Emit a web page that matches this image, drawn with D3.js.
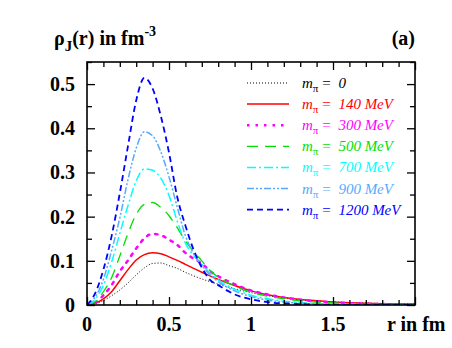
<!DOCTYPE html>
<html>
<head>
<meta charset="utf-8">
<script src="https://cdn.jsdelivr.net/npm/d3@7"></script>
<style>
  body { margin: 0; background: white; }
  svg, svg text { font-family: "Liberation Serif", "DejaVu Serif", serif; }
</style>
</head>
<body>
<div id="root"></div>
<script>
// r grid in fm (shared by all curves)
const rGrid = [0, 0.05, 0.1, 0.15, 0.2, 0.25, 0.3, 0.35, 0.4, 0.45, 0.5, 0.55, 0.6, 0.65, 0.7, 0.75, 0.8, 0.9, 1.0, 1.1, 1.2, 1.3, 1.4, 1.5, 1.6, 1.7, 1.8, 1.9, 2.0]

// rho_J(r) values, one array per pion mass
const rho0    = [0, 0.003, 0.010, 0.021, 0.034, 0.050, 0.068, 0.084, 0.094, 0.095, 0.089, 0.083, 0.074, 0.066, 0.059, 0.053, 0.047, 0.037, 0.028, 0.021, 0.016, 0.012, 0.009, 0.007, 0.0055, 0.0045, 0.0036, 0.003, 0.0025]
const rho140  = [0, 0.004, 0.014, 0.030, 0.055, 0.080, 0.102, 0.114, 0.118, 0.116, 0.109, 0.101, 0.092, 0.083, 0.074, 0.066, 0.058, 0.044, 0.032, 0.023, 0.017, 0.0125, 0.0095, 0.007, 0.0053, 0.004, 0.003, 0.0024, 0.002]
const rho300  = [0, 0.005, 0.022, 0.045, 0.076, 0.101, 0.128, 0.151, 0.161, 0.158, 0.148, 0.136, 0.118, 0.105, 0.094, 0.077, 0.065, 0.047, 0.033, 0.024, 0.017, 0.012, 0.0085, 0.006, 0.0042, 0.003, 0.0021, 0.0015, 0.001]
const rho500  = [0, 0.008, 0.030, 0.062, 0.111, 0.162, 0.205, 0.228, 0.232, 0.221, 0.202, 0.175, 0.145, 0.121, 0.100, 0.078, 0.063, 0.043, 0.029, 0.020, 0.014, 0.0095, 0.0065, 0.0045, 0.003, 0.002, 0.0014, 0.001, 0.0007]
const rho700  = [0, 0.013, 0.045, 0.097, 0.162, 0.225, 0.281, 0.308, 0.305, 0.287, 0.248, 0.190, 0.140, 0.112, 0.092, 0.072, 0.057, 0.036, 0.022, 0.014, 0.0085, 0.0055, 0.0035, 0.0022, 0.0014, 0.0009, 0.0006, 0.0004, 0.0003]
const rho900  = [0, 0.018, 0.058, 0.123, 0.197, 0.284, 0.355, 0.392, 0.383, 0.347, 0.290, 0.222, 0.157, 0.116, 0.090, 0.068, 0.053, 0.032, 0.019, 0.011, 0.0065, 0.004, 0.0025, 0.0015, 0.001, 0.0006, 0.0004, 0.0002, 0.0001]
const rho1200 = [0, 0.027, 0.080, 0.156, 0.253, 0.360, 0.463, 0.514, 0.490, 0.428, 0.345, 0.245, 0.180, 0.125, 0.085, 0.057, 0.045, 0.024, 0.013, 0.0065, 0.0035, 0.002, 0.001, 0.0006, 0.0003, 0.0002, 0.0001, 0.0001, 0]

const massLabels = ["0", "140 MeV", "300 MeV", "500 MeV", "700 MeV", "900 MeV", "1200 MeV"]
const xTicks = [0, 0.5, 1, 1.5]
const yTicks = [0, 0.1, 0.2, 0.3, 0.4, 0.5]

const series = [
    {vals: rho0,    color: "#000000", width: 1,   dash: "1,2"},
    {vals: rho140,  color: "#ff0000", width: 1.5, dash: null},
    {vals: rho300,  color: "#ff00ff", width: 2.5, dash: "2.5,6"},
    {vals: rho500,  color: "#00e000", width: 1.3, dash: "11,7"},
    {vals: rho700,  color: "#00ffff", width: 1.5, dash: "9,3,2,3"},
    {vals: rho900,  color: "#55aaff", width: 1.5, dash: "7,2,2,2,2,2"},
    {vals: rho1200, color: "#0000ff", width: 1.8, dash: "6,4"}
]

const w = 452, h = 348
const mLeft = 87, mRight = 415, mTop = 62, mBottom = 305
const serif = "'Liberation Serif', 'DejaVu Serif', serif"

//scales
const x = d3.scaleLinear().domain([0, 2]).range([mLeft, mRight])
const y = d3.scaleLinear().domain([0, 0.55]).range([mBottom, mTop])

const svg = d3.select("#root").append("svg")
    .attr("width", w)
    .attr("height", h)
    .attr("font-family", serif)

svg.append("rect").attr("width", w).attr("height", h).attr("fill", "white")

// curves
const line = d3.line()
    .x((d, i) => x(rGrid[i]))
    .y(d => y(d))
    .curve(d3.curveMonotoneX)

svg.append("defs").append("clipPath").attr("id", "clip")
    .append("rect").attr("x", mLeft).attr("y", mTop).attr("width", mRight - mLeft).attr("height", mBottom - mTop)

svg.append("g").attr("clip-path", "url(#clip)")
    .selectAll("path.curve")
    .data(series)
    .enter()
    .append("path")
    .attr("class", "curve")
    .attr("fill", "none")
    .attr("stroke", d => d.color)
    .attr("stroke-width", d => d.width)
    .attr("stroke-dasharray", d => d.dash)
    .attr("stroke-linecap", (d, i) => i == 2 ? "round" : "butt")
    .attr("d", d => line(d.vals))

// axes, ticks pointing inwards on all four sides
const xMinor = d3.range(0, 2.001, 0.1)
const yMinor = d3.range(0, 0.5501, 0.05)

function isMajor(v, step) {
    return Math.abs(v / step - Math.round(v / step)) < 1e-6
}

svg.append("g").attr("transform", `translate(0,${mBottom})`)
    .call(d3.axisBottom(x).tickValues(xMinor).tickSizeOuter(0).tickFormat(""))
    .call(g => g.selectAll(".tick line").attr("y2", d => isMajor(d, 0.5) ? -8 : -5).attr("stroke-width", 1.3))
    .call(g => g.select(".domain").remove())

svg.append("g").attr("transform", `translate(0,${mTop})`)
    .call(d3.axisTop(x).tickValues(xMinor).tickSizeOuter(0).tickFormat(""))
    .call(g => g.selectAll(".tick line").attr("y2", d => isMajor(d, 0.5) ? 8 : 5).attr("stroke-width", 1.3))
    .call(g => g.select(".domain").remove())

svg.append("g").attr("transform", `translate(${mLeft},0)`)
    .call(d3.axisLeft(y).tickValues(yMinor).tickSizeOuter(0).tickFormat(""))
    .call(g => g.selectAll(".tick line").attr("x2", d => isMajor(d, 0.1) ? 8 : 5).attr("stroke-width", 1.3))
    .call(g => g.select(".domain").remove())

svg.append("g").attr("transform", `translate(${mRight},0)`)
    .call(d3.axisRight(y).tickValues(yMinor).tickSizeOuter(0).tickFormat(""))
    .call(g => g.selectAll(".tick line").attr("x2", d => isMajor(d, 0.1) ? -8 : -5).attr("stroke-width", 1.3))
    .call(g => g.select(".domain").remove())

svg.append("rect")
    .attr("x", mLeft).attr("y", mTop)
    .attr("width", mRight - mLeft).attr("height", mBottom - mTop)
    .attr("fill", "none").attr("stroke", "black").attr("stroke-width", 1.6)

// tick labels
svg.selectAll("text.xlab").data(xTicks).enter().append("text")
    .attr("class", "xlab")
    .attr("x", d => x(d)).attr("y", 331)
    .attr("text-anchor", "middle")
    .attr("font-family", serif)
    .attr("font-size", 20).attr("font-weight", "bold")
    .text(d => d3.format("")(d))

svg.selectAll("text.ylab").data(yTicks).enter().append("text")
    .attr("class", "ylab")
    .attr("x", 75).attr("y", d => y(d) + 7)
    .attr("text-anchor", "end")
    .attr("font-family", serif)
    .attr("font-size", 20).attr("font-weight", "bold")
    .text(d => d3.format("")(d))

svg.append("text")
    .attr("x", 387).attr("y", 331)
    .attr("font-family", serif)
    .attr("font-size", 20).attr("font-weight", "bold")
    .text("r in fm")

// title
const title = svg.append("text")
    .attr("x", 54).attr("y", 45)
    .attr("font-family", serif)
    .attr("font-size", 20).attr("font-weight", "bold")
title.append("tspan").text("ρ")
title.append("tspan").attr("font-size", 15).attr("dy", 6).text("J")
title.append("tspan").attr("dy", -6).text("(r) in fm")
title.append("tspan").attr("font-size", 14).attr("dy", -9).text("-3")

svg.append("text")
    .attr("x", 415).attr("y", 45)
    .attr("text-anchor", "end")
    .attr("font-family", serif)
    .attr("font-size", 20).attr("font-weight", "bold")
    .text("(a)")

// legend
const legend = svg.selectAll("g.legend").data(series).enter().append("g")
    .attr("class", "legend")
    .attr("transform", (d, i) => `translate(0,${83 + i * 21.1})`)

legend.append("line")
    .attr("x1", 247).attr("x2", 289)
    .attr("stroke", d => d.color)
    .attr("stroke-width", d => d.width)
    .attr("stroke-dasharray", d => d.dash)

const ltext = legend.append("text")
    .attr("x", 302).attr("y", 5)
    .attr("font-family", serif)
    .attr("font-size", 15)
    .attr("fill", d => d.color)
ltext.append("tspan").attr("font-style", "italic").text("m")
ltext.append("tspan").attr("font-size", 11).attr("dy", 4).text("π")
ltext.append("tspan").attr("dy", -4).attr("xml:space", "preserve").text(" = ")
ltext.append("tspan").attr("font-style", "italic").attr("dx", 4).text((d, i) => massLabels[i])
</script>
</body>
</html>
